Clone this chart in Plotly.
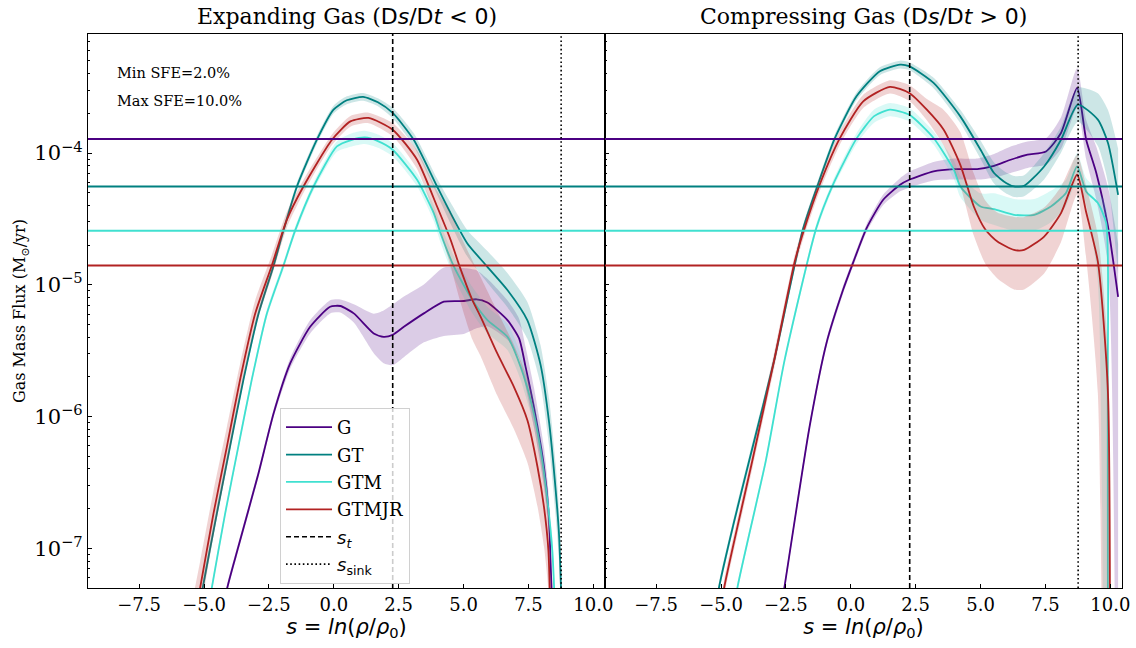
import numpy as np
import plotly.graph_objects as go

# ---------------------------------------------------------------- data
# s = ln(rho/rho0); fluxes stored as log10(Gas Mass Flux [Msun/yr]); band half-widths in dex
S_T = 2.27
S_SINK = 8.76
MIN_SFE = 2.0
MAX_SFE = 10.0

# SFE threshold fluxes (horizontal lines)
thresh_G = 1.277e-4
thresh_GT = 5.57e-5
thresh_GTM = 2.57e-5
thresh_GTMJR = 1.40e-5

# ---- Expanding gas (Ds/Dt < 0)
exp_G_s = [-4.35, -4.12, -3.68, -2.90, -2.32, -1.68, -0.91, -0.14, 0.25, 0.77, 1.54, 1.92, 2.27, 2.70,
           3.47, 4.24, 5.01, 5.50, 5.92, 6.69, 7.14, 7.39, 7.71, 8.10, 8.29, 8.36, 8.45]
exp_G_log = [-7.6, -7.313, -6.99, -6.43, -5.977, -5.597, -5.319, -5.167, -5.161, -5.217, -5.369, -5.395,
             -5.38, -5.319, -5.217, -5.128, -5.123, -5.11, -5.135, -5.268, -5.407, -5.623, -5.927, -6.383,
             -6.763, -7.144, -7.6]
exp_G_err = [0.03, 0.03, 0.03, 0.03, 0.03, 0.04, 0.05, 0.05, 0.05, 0.07, 0.15, 0.2, 0.23, 0.23, 0.22,
             0.26, 0.25, 0.22, 0.18, 0.15, 0.15, 0.15, 0.15, 0.15, 0.15, 0.15, 0.15]

exp_GT_s = [-5.3, -5.05, -4.51, -4.0, -3.48, -2.90, -2.32, -1.94, -1.42, -0.65, -0.01, 0.5, 1.13, 1.7,
            2.27, 3.08, 3.98, 4.50, 5.14, 5.91, 6.69, 7.46, 7.97, 8.30, 8.55, 8.68, 8.80]
exp_GT_log = [-7.6, -7.3, -6.74, -6.23, -5.72, -5.22, -4.855, -4.589, -4.254, -3.899, -3.671, -3.60,
              -3.574, -3.615, -3.696, -3.899, -4.254, -4.456, -4.684, -4.862, -5.04, -5.27, -5.61,
              -6.05, -6.56, -6.9, -7.6]
exp_GT_err = [0.05, 0.05, 0.04, 0.04, 0.03, 0.03, 0.03, 0.03, 0.03, 0.03, 0.03, 0.03, 0.03, 0.03,
              0.04, 0.05, 0.06, 0.08, 0.1, 0.12, 0.13, 0.14, 0.15, 0.18, 0.2, 0.2, 0.2]

exp_GTM_s = [-4.95, -4.70, -4.19, -3.68, -3.16, -2.58, -1.94, -1.49, -0.78, 0.12, 0.7, 1.2, 1.7, 2.27,
             3.21, 3.85, 4.11, 4.63, 5.34, 5.92, 6.69, 7.20, 7.65, 7.97, 8.23, 8.42, 8.55]
exp_GTM_log = [-7.6, -7.3, -6.74, -6.23, -5.72, -5.22, -4.855, -4.589, -4.254, -3.95, -3.90, -3.882,
               -3.91, -3.975, -4.203, -4.456, -4.608, -4.862, -5.116, -5.268, -5.395, -5.623, -5.927,
               -6.255, -6.637, -7.017, -7.6]
exp_GTM_err = [0.03, 0.03, 0.03, 0.03, 0.03, 0.03, 0.03, 0.03, 0.03, 0.04, 0.05, 0.05, 0.05, 0.05,
               0.05, 0.06, 0.07, 0.08, 0.1, 0.1, 0.1, 0.1, 0.1, 0.1, 0.1, 0.1, 0.1]

exp_GTMJR_s = [-5.45, -5.15, -4.64, -4.12, -3.61, -3.03, -2.39, -1.81, -1.17, -0.07, 0.64, 1.34, 2.27,
               3.21, 3.98, 4.50, 4.85, 5.34, 5.66, 6.30, 6.94, 7.46, 7.85, 8.10, 8.27, 8.35]
exp_GTMJR_log = [-7.6, -7.3, -6.74, -6.23, -5.72, -5.22, -4.855, -4.507, -4.254, -3.899, -3.76, -3.734,
                 -3.823, -4.051, -4.406, -4.658, -4.862, -5.116, -5.243, -5.521, -5.775, -6.028, -6.383,
                 -6.687, -7.017, -7.6]
exp_GTMJR_err = [0.2, 0.2, 0.17, 0.15, 0.12, 0.1, 0.08, 0.06, 0.05, 0.04, 0.04, 0.04, 0.05, 0.07, 0.12,
                 0.2, 0.25, 0.3, 0.3, 0.32, 0.32, 0.32, 0.3, 0.3, 0.3, 0.3]

# ---- Compressing gas (Ds/Dt > 0)
cmp_G_s = [-2.8, -2.56, -1.59, -0.94, -0.30, 0.09, 0.61, 1.25, 1.90, 2.25, 3.19, 3.97, 4.87, 5.52,
           6.16, 6.81, 7.52, 8.10, 8.72, 9.07, 9.46, 9.91, 10.30]
cmp_G_log = [-7.6, -7.3, -6.079, -5.445, -5.04, -4.832, -4.57, -4.355, -4.241, -4.203, -4.139, -4.122,
             -4.122, -4.097, -4.051, -4.013, -3.988, -3.848, -3.506, -3.899, -4.152, -4.557, -5.091]
cmp_G_errhi = [0.03, 0.03, 0.03, 0.03, 0.03, 0.03, 0.03, 0.04, 0.05, 0.06, 0.07, 0.08, 0.08, 0.09,
               0.1, 0.1, 0.1, 0.12, 0.15, 0.15, 0.2, 0.3, 0.4]
cmp_G_errlo = [0.03, 0.03, 0.03, 0.03, 0.03, 0.03, 0.03, 0.04, 0.05, 0.06, 0.07, 0.08, 0.08, 0.09,
               0.1, 0.1, 0.1, 0.12, 0.15, 0.15, 0.2, 0.3, 7.0]

cmp_GT_s = [-5.3, -5.08, -4.5, -3.91, -2.95, -1.85, -1.27, -0.62, 0.22, 1.12, 1.90, 2.25, 3.19, 4.22,
            5.0, 5.52, 6.0, 6.29, 6.68, 7.45, 8.10, 8.75, 9.52, 9.91, 10.30]
cmp_GT_log = [-7.6, -7.3, -6.8, -6.332, -5.572, -4.583, -4.241, -3.891, -3.57, -3.379, -3.329, -3.341,
              -3.468, -3.722, -3.975, -4.152, -4.23, -4.254, -4.249, -4.102, -3.899, -3.633, -3.747,
              -3.924, -4.317]
cmp_GT_errhi = [0.04, 0.04, 0.04, 0.04, 0.04, 0.03, 0.03, 0.03, 0.03, 0.03, 0.03, 0.03, 0.04, 0.05,
                0.07, 0.08, 0.08, 0.08, 0.08, 0.1, 0.1, 0.13, 0.2, 0.25, 0.35]
cmp_GT_errlo = [0.04, 0.04, 0.04, 0.04, 0.04, 0.03, 0.03, 0.03, 0.03, 0.03, 0.03, 0.03, 0.04, 0.05,
                0.07, 0.08, 0.08, 0.08, 0.08, 0.1, 0.1, 0.13, 0.2, 0.3, 0.6]

cmp_GTM_s = [-4.6, -4.37, -3.27, -2.55, -1.33, -0.69, 0.22, 0.9, 1.51, 2.25, 3.19, 3.97, 4.22, 5.0,
             5.52, 6.29, 7.07, 7.71, 8.29, 8.72, 9.07, 9.52, 9.84, 9.90, 9.92]
cmp_GTM_log = [-7.6, -7.3, -6.332, -5.572, -4.57, -4.241, -3.891, -3.72, -3.671, -3.709, -3.886, -4.127,
               -4.254, -4.406, -4.426, -4.469, -4.469, -4.406, -4.304, -4.102, -4.292, -4.38, -4.532,
               -5.825, -12.0]
cmp_GTM_errhi = [0.03, 0.03, 0.03, 0.03, 0.03, 0.03, 0.04, 0.05, 0.05, 0.05, 0.05, 0.07, 0.08, 0.1,
                 0.12, 0.12, 0.12, 0.12, 0.1, 0.1, 0.1, 0.1, 0.12, 0.2, 0.0]
cmp_GTM_errlo = [0.03, 0.03, 0.03, 0.03, 0.03, 0.03, 0.04, 0.05, 0.05, 0.05, 0.05, 0.07, 0.08, 0.1,
                 0.12, 0.12, 0.12, 0.12, 0.1, 0.1, 0.1, 0.6, 7.5, 6.0, 0.0]

cmp_GTMJR_s = [-5.1, -4.88, -3.79, -2.95, -2.17, -1.78, -1.20, -0.43, 0.48, 1.51, 2.25, 2.93, 3.58,
               4.22, 4.74, 5.19, 5.65, 6.29, 6.68, 7.45, 8.10, 8.72, 9.07, 9.52, 9.91, 9.94]
cmp_GTMJR_log = [-7.6, -7.3, -6.332, -5.572, -4.832, -4.57, -4.241, -3.891, -3.608, -3.498, -3.544,
                 -3.671, -3.823, -4.09, -4.406, -4.583, -4.672, -4.735, -4.735, -4.634, -4.456, -4.165,
                 -4.45, -4.825, -5.825, -12.0]
cmp_GTMJR_errhi = [0.06, 0.06, 0.06, 0.06, 0.05, 0.05, 0.05, 0.05, 0.05, 0.05, 0.06, 0.08, 0.15, 0.25,
                   0.25, 0.22, 0.22, 0.25, 0.25, 0.22, 0.2, 0.15, 0.2, 0.2, 0.3, 0.0]
cmp_GTMJR_errlo = [0.06, 0.06, 0.06, 0.06, 0.05, 0.05, 0.05, 0.05, 0.05, 0.05, 0.06, 0.08, 0.12, 0.16,
                   0.22, 0.26, 0.28, 0.3, 0.3, 0.28, 0.22, 0.15, 0.35, 1.0, 6.2, 0.0]

# ---------------------------------------------------------------- style
COLORS = {"G": (75, 0, 130), "GT": (0, 128, 128), "GTM": (64, 224, 208), "GTMJR": (178, 34, 34)}
X_RANGE = [-9.47, 10.45]
Y_MIN, Y_MAX = 5e-8, 8e-4
SERIF = "DejaVu Serif"
SANS = "DejaVu Sans"
LINE_SHAPE = dict(shape="spline", smoothing=0.6)


def rgb(c, a=None):
    return f"rgb({c[0]},{c[1]},{c[2]})" if a is None else f"rgba({c[0]},{c[1]},{c[2]},{a})"


fig = go.Figure()

panels = [
    ("x", "y", [
        ("G", exp_G_s, exp_G_log, exp_G_err, exp_G_err),
        ("GT", exp_GT_s, exp_GT_log, exp_GT_err, exp_GT_err),
        ("GTM", exp_GTM_s, exp_GTM_log, exp_GTM_err, exp_GTM_err),
        ("GTMJR", exp_GTMJR_s, exp_GTMJR_log, exp_GTMJR_err, exp_GTMJR_err),
    ]),
    ("x2", "y2", [
        ("G", cmp_G_s, cmp_G_log, cmp_G_errlo, cmp_G_errhi),
        ("GT", cmp_GT_s, cmp_GT_log, cmp_GT_errlo, cmp_GT_errhi),
        ("GTM", cmp_GTM_s, cmp_GTM_log, cmp_GTM_errlo, cmp_GTM_errhi),
        ("GTMJR", cmp_GTMJR_s, cmp_GTMJR_log, cmp_GTMJR_errlo, cmp_GTMJR_errhi),
    ]),
]
thresholds = [("G", thresh_G), ("GT", thresh_GT), ("GTM", thresh_GTM), ("GTMJR", thresh_GTMJR)]

for pi, (xa, ya, series) in enumerate(panels):
    for name, s, lg, elo, ehi in series:
        s = np.asarray(s, float)
        lg = np.asarray(lg, float)
        up = 10.0 ** (lg + np.asarray(ehi, float))
        lo = 10.0 ** (lg - np.asarray(elo, float))
        val = 10.0 ** lg
        c = COLORS[name]
        fig.add_trace(go.Scatter(x=s, y=up, mode="lines", line=dict(width=0, color=rgb(c), **LINE_SHAPE),
                                 hoverinfo="skip", showlegend=False, xaxis=xa, yaxis=ya))
        fig.add_trace(go.Scatter(x=s, y=lo, mode="lines", line=dict(width=0, color=rgb(c), **LINE_SHAPE),
                                 fill="tonexty", fillcolor=rgb(c, 0.2),
                                 hoverinfo="skip", showlegend=False, xaxis=xa, yaxis=ya))
        fig.add_trace(go.Scatter(x=s, y=val, mode="lines",
                                 line=dict(width=1.8, color=rgb(c), **LINE_SHAPE),
                                 name=name, legendgroup=name, showlegend=(pi == 0),
                                 xaxis=xa, yaxis=ya))
    for name, t in thresholds:
        fig.add_trace(go.Scatter(x=X_RANGE, y=[t, t], mode="lines",
                                 line=dict(width=1.8, color=rgb(COLORS[name])),
                                 hoverinfo="skip", showlegend=False, xaxis=xa, yaxis=ya))

for pi, (xa, ya, _) in enumerate(panels):
    fig.add_trace(go.Scatter(x=[S_T, S_T], y=[Y_MIN, Y_MAX], mode="lines",
                             line=dict(color="black", width=1.6, dash="5px,3px"),
                             name='<span style="font-family:DejaVu Sans"><i>s</i><sub><i>t</i></sub></span>',
                             legendgroup="st", showlegend=(pi == 0), xaxis=xa, yaxis=ya))
for pi, (xa, ya, _) in enumerate(panels):
    fig.add_trace(go.Scatter(x=[S_SINK, S_SINK], y=[Y_MIN, Y_MAX], mode="lines",
                             line=dict(color="black", width=1.6, dash="1.6px,2.6px"),
                             name='<span style="font-family:DejaVu Sans"><i>s</i><sub>sink</sub></span>',
                             legendgroup="ssink", showlegend=(pi == 0), xaxis=xa, yaxis=ya))

xticks = [-7.5, -5.0, -2.5, 0.0, 2.5, 5.0, 7.5, 10.0]
yticks = [1e-7, 1e-6, 1e-5, 1e-4]
yticktext = ["10<sup>\u22127</sup>", "10<sup>\u22126</sup>", "10<sup>\u22125</sup>", "10<sup>\u22124</sup>"]
yminor = [k * 10.0 ** e for e in range(-8, -3) for k in range(2, 10) if Y_MIN < k * 10.0 ** e < Y_MAX]

xtitle = dict(text="<i>s</i> = <i>ln</i>(<i>\u03c1</i>/<i>\u03c1</i><sub>0</sub>)",
              font=dict(family=SANS, size=21, color="black"), standoff=4)
common_x = dict(range=X_RANGE, tickvals=xticks, tickformat=".1f", ticks="inside", ticklen=4,
                tickwidth=1, tickcolor="black", showline=True, linecolor="black", linewidth=1.2,
                mirror=True, showgrid=False, zeroline=False, automargin=False,
                tickfont=dict(family=SERIF, size=18, color="black"), title=xtitle)
common_y = dict(type="log", range=[np.log10(Y_MIN), np.log10(Y_MAX)], tickvals=yticks,
                ticktext=yticktext, ticks="inside", ticklen=4, tickwidth=1, tickcolor="black",
                minor=dict(tickvals=yminor, ticks="inside", ticklen=2, tickwidth=0.8,
                           tickcolor="black", showgrid=False),
                showline=True, linecolor="black", linewidth=1.2, mirror=True, showgrid=False,
                zeroline=False, automargin=False, tickfont=dict(family=SERIF, size=21, color="black"))

fig.update_layout(
    width=1136, height=648,
    margin=dict(l=88, r=14, t=34, b=60, autoexpand=False),
    plot_bgcolor="white", paper_bgcolor="white",
    font=dict(family=SERIF, color="black"),
    xaxis=dict(domain=[0.0, 0.5], anchor="y", **common_x),
    xaxis2=dict(domain=[0.5, 1.0], anchor="y2", **common_x),
    yaxis=dict(domain=[0, 1], anchor="x",
               title=dict(text="Gas Mass Flux (M<sub>\u2299</sub>/yr)",
                          font=dict(family=SERIF, size=16, color="black"), standoff=4),
               **common_y),
    yaxis2=dict(domain=[0, 1], anchor="x2", matches="y", showticklabels=False, **common_y),
    legend=dict(x=0.1857, y=0.325, xanchor="left", yanchor="top",
                bgcolor="rgba(255,255,255,0.8)", bordercolor="#d0d0d0", borderwidth=1,
                font=dict(family=SERIF, size=18, color="black"), itemwidth=46,
                traceorder="grouped", tracegroupgap=1),
    showlegend=True,
    annotations=[
        dict(text="Expanding Gas (<span style=\"font-family:DejaVu Sans\">D<i>s</i>/D<i>t</i> &lt; 0</span>)",
             x=0.25, y=1.0, xref="paper", yref="paper", xanchor="center", yanchor="bottom",
             yshift=3, showarrow=False, font=dict(family=SERIF, size=22, color="black")),
        dict(text="Compressing Gas (<span style=\"font-family:DejaVu Sans\">D<i>s</i>/D<i>t</i> &gt; 0</span>)",
             x=0.75, y=1.0, xref="paper", yref="paper", xanchor="center", yanchor="bottom",
             yshift=3, showarrow=False, font=dict(family=SERIF, size=22, color="black")),
        dict(text=f"Min SFE={MIN_SFE:.1f}%", x=0.026, y=0.9296, xref="paper", yref="paper",
             xanchor="left", yanchor="middle", showarrow=False,
             font=dict(family=SERIF, size=14.5, color="black")),
        dict(text=f"Max SFE={MAX_SFE:.1f}%", x=0.026, y=0.879, xref="paper", yref="paper",
             xanchor="left", yanchor="middle", showarrow=False,
             font=dict(family=SERIF, size=14.5, color="black")),
    ],
)

fig.write_html("out.html", config={"displayModeBar": False},
               post_script="document.body.style.margin='0px';document.body.style.padding='0px';")
